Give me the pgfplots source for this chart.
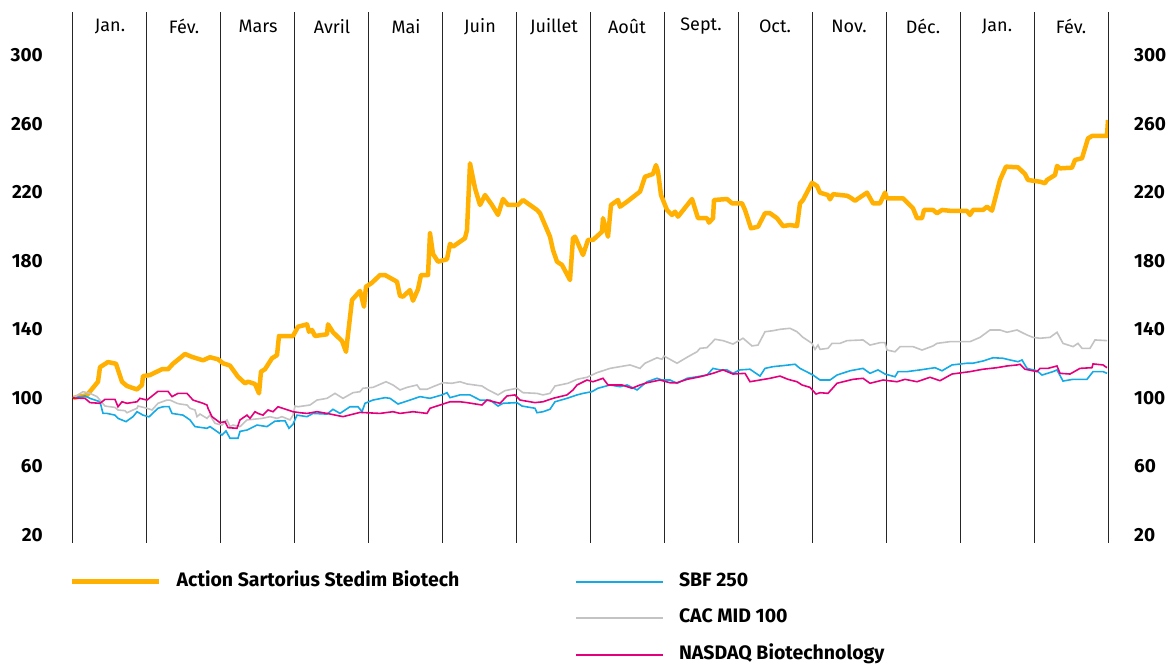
\documentclass[border=0pt]{standalone}
\usepackage{pgfplots}
\pgfplotsset{compat=1.18}
\usepackage{fontspec}
\setmainfont{Fira Sans}
\definecolor{ssbOrange}{RGB}{255,176,0}
\definecolor{sbfBlue}{RGB}{20,170,230}
\definecolor{cacGrey}{RGB}{195,195,195}
\definecolor{nasPink}{RGB}{228,0,125}
\newcommand{\lblfont}{\fontsize{18}{18}\selectfont}
\newcommand{\tickfont}{\fontsize{19}{19}\selectfont}
\newcommand{\legfont}{\fontsize{19.5}{19.5}\selectfont}
\begin{document}
\begin{tikzpicture}
\useasboundingbox (0,0) rectangle (1173pt,664pt);
\begin{axis}[
  scale only axis, width=1035pt, height=531pt,
  at={(73pt,121pt)}, anchor=south west,
  xmin=0, xmax=1035, ymin=15.33, ymax=325.4,
  axis line style={draw=none},
  major tick length=0pt,
  xtick={0,73.93,147.86,221.79,295.71,369.64,443.57,517.5,591.43,665.36,739.29,813.21,887.14,961.07,1035},
  xticklabels={},
  xmajorgrids,
  major x grid style={black!85, line width=1pt},
  ytick={20,60,100,140,180,220,260,300},
  /pgf/number format/assume math mode=true,
  yticklabel style={font=\bfseries\tickfont, anchor=east, inner sep=0pt, xshift=-30pt},
  legend columns=2,
  legend cell align=left,
  legend image code/.code={\draw[#1] (0pt,0pt) -- (87pt,0pt);},
  legend style={at={(rel axis cs:0,0)}, anchor=north west, yshift=-30pt, xshift=-3pt,
    draw=none, fill=none, inner sep=0pt, row sep=19.5pt,
    font=\bfseries\legfont,
    nodes={inner sep=0pt, text height=13pt, text depth=4pt},
    /tikz/every odd column/.append style={column sep=15pt},
    /tikz/every even column/.append style={column sep=116pt}},
]
% Action Sartorius Stedim Biotech
\addplot[ssbOrange, line width=4.5pt, line join=round] coordinates {
(0,100)(14,101.7)(25,109.5)(27,118)(35,121)(43,120)(49,109.5)(54,107)(64,105)(69,107.6)
(70,112.8)(77,113.4)(84,115.4)(89,116.8)(95,116.8)(100,120)(112,125.7)(119,124)(130,122)
(137,123.8)(145,122.6)(150,120.3)(157,118.9)(165,112.4)(172,108.6)(175,109.5)(182,108.2)
(186,102.7)(188,115.4)(192,116.8)(199,123.2)(204,125)(206,136.2)(220,136.2)(225,141.6)
(234,143)(236,138.7)(239,139.7)(242,136.2)(254,137.2)(255,143)(260,138.4)(269,133.3)
(273,127)(279,157.2)(287,162.5)(291,153.3)(293,165)(299,167.3)(307,171.8)(312,171.8)
(324,167.9)(327,159.6)(330,159.2)(337,163)(340,156.8)(345,163.5)(348,171.8)(355,171.8)
(357,196.2)(360,184.1)(365,179.6)(374,181)(377,190)(380,188.4)(392,193.3)(394,198.1)
(397,237)(402,222.5)(407,212.7)(412,218.5)(419,212.7)(425,206.9)(430,216.2)(435,212.7)
(445,212.7)(450,215.6)(464,209.8)(467,207.9)(477,194.2)(480,186.4)(484,179.6)(489,177.7)
(497,168.9)(500,193.3)(502,194.2)(510,183.5)(515,192.3)(520,192.3)(529,197.1)(530,205)
(535,194.2)(538,212.7)(545,215.6)(547,211.7)(554,214.6)(567,220.5)(572,229.2)(580,230.8)
(583,236)(585,232.2)(588,218.5)(594,209.8)(599,206.9)(602,208.8)(605,205.9)(619,216.2)
(625,205)(634,205)(636,202.4)(640,205)(641,215.6)(654,216.2)(659,213.7)(669,213.7)
(672,209.8)(678,199.1)(685,200)(692,207.9)(697,207.9)(704,205)(710,200.4)(717,201)
(724,200.4)(727,213.7)(730,215.6)(739,225.7)(744,223.8)(747,219.9)(755,218.5)(757,216)
(760,219)(774,218.1)(777,217.2)(782,215.2)(794,219.9)(800,213.7)(807,213.7)(812,219.9)
(814,216.6)(830,216.6)(840,210.8)(844,205)(849,205)(851,209.8)(860,209.8)(864,207.9)
(869,209.8)(879,209.2)(894,209.2)(897,206.9)(900,209.8)(910,209.8)(914,211.7)(919,209.4)
(927,227.3)(933,235.1)(945,234.7)(952,230.8)(955,227.3)(962,226.7)(967,226.3)(972,225.4)
(974,227.3)(982,230.2)(984,235.5)(987,234.1)(999,234.5)(1002,239)(1009,240)(1015,251.6)
(1019,253)(1034,253)(1035,262.3)
};
\addlegendentry{Action Sartorius Stedim Biotech}
% SBF 250
\addplot[sbfBlue, line width=1.6pt] coordinates {
(0,100)(12,101.2)(17,99.8)(27,97.8)(30,91)(34,91)(42,90)(45,88.1)(53,86.2)(60,89.1)
(64,92)(70,90)(76,89)(85,94)(90,94.9)(96,95)(99,91)(110,90)(117,87.2)(122,83.3)
(134,82.3)(137,83.3)(149,78.4)(153,80.8)(157,76.5)(165,76.5)(167,80.5)(174,81.3)
(184,84.2)(194,83.3)(202,86.5)(212,86.7)(216,82.3)(220,84.7)(224,90)(234,89.1)(240,91)
(254,90.6)(260,93.4)(267,91)(277,94.9)(285,94.9)(289,92)(292,96.9)(300,98.8)(312,100.2)
(317,99.8)(325,96.5)(337,98.8)(347,100.8)(357,99.8)(369,101.8)(374,103.1)(377,100.2)
(387,101.8)(397,101.8)(407,98.8)(417,98.8)(425,95.3)(430,96.9)(444,97.3)(449,95.3)
(462,94)(464,91.4)(470,92)(477,93.4)(482,97.8)(494,99.8)(504,101.8)(510,102.7)(519,103.7)
(525,105.7)(537,107.6)(547,106.6)(554,107.6)(564,104.7)(574,109.5)(584,111.5)(589,110.5)
(597,110.5)(604,108.6)(614,111.5)(624,112.4)(634,113.4)(640,117.3)(647,116.4)(654,116.4)
(660,114.4)(667,116.4)(677,116.8)(687,112.8)(692,117.3)(700,118.3)(710,118.9)(722,119.7)
(727,117.3)(740,113.4)(747,110.5)(757,110.5)(764,113.4)(777,115.9)(790,117.3)(797,114.4)
(805,116.4)(812,114)(822,112.4)(825,115.4)(834,115.4)(847,116.4)(862,117.7)(869,115.9)
(879,119.3)(894,120.3)(900,120.3)(910,121.6)(920,123.5)(930,123.2)(937,122.2)(945,121.2)
(949,122.2)(954,117.3)(964,115.9)(969,113.4)(980,115.4)(984,116.4)(990,109.9)(1000,110.9)
(1014,110.9)(1020,115.4)(1030,115.4)(1034,114.4)
};
\addlegendentry{SBF 250}
\addlegendimage{empty legend}\addlegendentry{}
% CAC MID 100
\addplot[cacGrey, line width=1.6pt] coordinates {
(0,100)(10,103.7)(17,102.7)(24,100.8)(32,95.3)(42,94.5)(45,93)(52,92.6)(54,91.4)(60,93)
(64,94)(65,95.3)(74,94)(79,93)(85,96.9)(94,98.8)(97,98.8)(104,96.9)(107,96.5)(114,95.9)
(117,94)(122,93)(124,89.1)(127,90.6)(134,88.1)(137,90)(142,85.2)(149,84.2)(154,87.2)
(157,83.3)(160,84.2)(167,83.3)(174,87.2)(189,88.1)(197,89.1)(204,88.1)(209,89.1)(217,87.2)
(220,90)(222,95.3)(225,94.9)(237,95.9)(244,98.8)(254,99.8)(262,102.7)(270,99.8)(280,103.1)
(287,103.7)(290,105.7)(300,106.2)(313,109.5)(320,107.6)(327,104.7)(334,106.2)(344,107.6)
(347,105.1)(354,105.1)(360,106.6)(370,108.9)(379,108.6)(387,109.5)(394,108.2)(409,107)
(414,105.1)(425,101.8)(432,104.3)(444,105.7)(450,103.1)(464,102.7)(470,101.8)(477,102.7)
(482,107)(495,108.6)(504,110.9)(514,112.1)(524,114.8)(537,117.3)(547,118.3)(557,119.3)
(567,117.3)(572,120.3)(584,123.5)(589,122.6)(591,124.5)(604,120.3)(615,124.1)(624,127)
(627,129)(634,129.4)(642,134.3)(650,133.5)(660,131.5)(670,134.9)(679,130.4)(685,130.9)
(692,138.7)(700,139.3)(707,140.1)(717,140.7)(724,138.7)(730,135.4)(739,131.9)(742,128.4)
(745,130.9)(747,128.4)(755,129)(759,131.9)(767,131.9)(774,133.5)(790,133.9)(797,130.9)
(807,132.3)(812,132.3)(814,128)(822,127)(827,130)(840,130)(849,128)(860,130.4)(864,131.9)
(877,132.9)(897,132.9)(907,135.4)(917,139.7)(927,139.7)(934,138.4)(944,139.7)(954,136.8)
(960,135.4)(967,134.9)(977,135.4)(984,138.4)(990,131.9)(1000,130)(1005,131.9)(1009,129)
(1017,129)(1022,133.9)(1034,133.5)
};
\addlegendentry{CAC MID 100}
\addlegendimage{empty legend}\addlegendentry{}
% NASDAQ Biotechnology
\addplot[nasPink, line width=1.6pt] coordinates {
(0,100)(12,99.8)(17,97.3)(27,96.9)(32,99.2)(42,99.2)(45,94.9)(49,97.8)(54,96.9)(64,97.8)
(67,99.8)(74,98.8)(85,103.9)(95,103.9)(99,100.8)(105,102.7)(114,102.7)(120,98.8)(130,96.9)
(134,95.9)(135,94)(139,89.1)(147,85.6)(152,86.2)(155,82.7)(164,82.3)(167,87.2)(174,90)
(177,88.1)(182,92)(185,91)(190,90)(195,93)(200,92)(205,94.9)(207,94.5)(217,92.6)(220,92)
(227,91.4)(234,91)(244,92)(254,91)(270,89.1)(287,91.6)(307,91)(320,92)(327,91)(340,92)
(354,91)(357,94)(367,95.9)(377,97.8)(387,97.8)(394,97.3)(409,95.9)(414,98.8)(427,96.9)
(434,101.2)(442,101.8)(447,98.8)(462,97.3)(470,97.8)(480,99.8)(494,101.8)(500,104.7)
(504,107.6)(514,110.5)(520,109.5)(530,111.5)(535,107.6)(549,107.6)(559,105.7)(567,107.6)
(574,108.9)(587,110.5)(597,108.9)(604,108.9)(614,110.9)(627,112.4)(640,114.4)(650,116.4)
(660,114)(672,114.4)(677,109.5)(687,110.5)(697,111.5)(707,112.8)(715,110.9)(724,109.5)
(729,107.6)(737,106.2)(743,102.3)(747,103.1)(755,102.7)(764,108.6)(780,110.9)(790,111.5)
(797,108.6)(810,110.5)(824,109.5)(832,110.9)(844,109.5)(857,112.1)(867,110.1)(879,114)
(897,115.4)(910,116.8)(924,117.7)(934,118.7)(944,119.3)(947,119.7)(952,116.8)(964,115.4)
(967,117.3)(975,117.3)(984,118.7)(987,114.4)(997,114)(1007,117.3)(1019,117.7)(1020,119.9)
(1030,119.3)(1034,117.7)
};
\addlegendentry{NASDAQ Biotechnology}
% month labels
\node[font=\lblfont] at (axis cs:37,317.0) {Jan.};
\node[font=\lblfont] at (axis cs:111,317.0) {Fév.};
\node[font=\lblfont] at (axis cs:185,317.0) {Mars};
\node[font=\lblfont] at (axis cs:259,317.0) {Avril};
\node[font=\lblfont] at (axis cs:333,317.0) {Mai};
\node[font=\lblfont] at (axis cs:407,317.0) {Juin};
\node[font=\lblfont] at (axis cs:481,317.0) {Juillet};
\node[font=\lblfont] at (axis cs:554,317.0) {Août};
\node[font=\lblfont] at (axis cs:628,317.0) {Sept.};
\node[font=\lblfont] at (axis cs:702,317.0) {Oct.};
\node[font=\lblfont] at (axis cs:776,317.0) {Nov.};
\node[font=\lblfont] at (axis cs:850,317.0) {Déc.};
\node[font=\lblfont] at (axis cs:924,317.0) {Jan.};
\node[font=\lblfont] at (axis cs:998,317.0) {Fév.};
\end{axis}
\begin{axis}[
  scale only axis, width=1035pt, height=531pt,
  at={(73pt,121pt)}, anchor=south west,
  xmin=0, xmax=1035, ymin=15.33, ymax=325.4,
  axis line style={draw=none},
  major tick length=0pt,
  xtick=\empty,
  ytick={20,60,100,140,180,220,260,300},
  yticklabel pos=right,
  /pgf/number format/assume math mode=true,
  yticklabel style={font=\bfseries\tickfont, anchor=west, inner sep=0pt, xshift=26pt},
]
\end{axis}
\end{tikzpicture}
\end{document}
